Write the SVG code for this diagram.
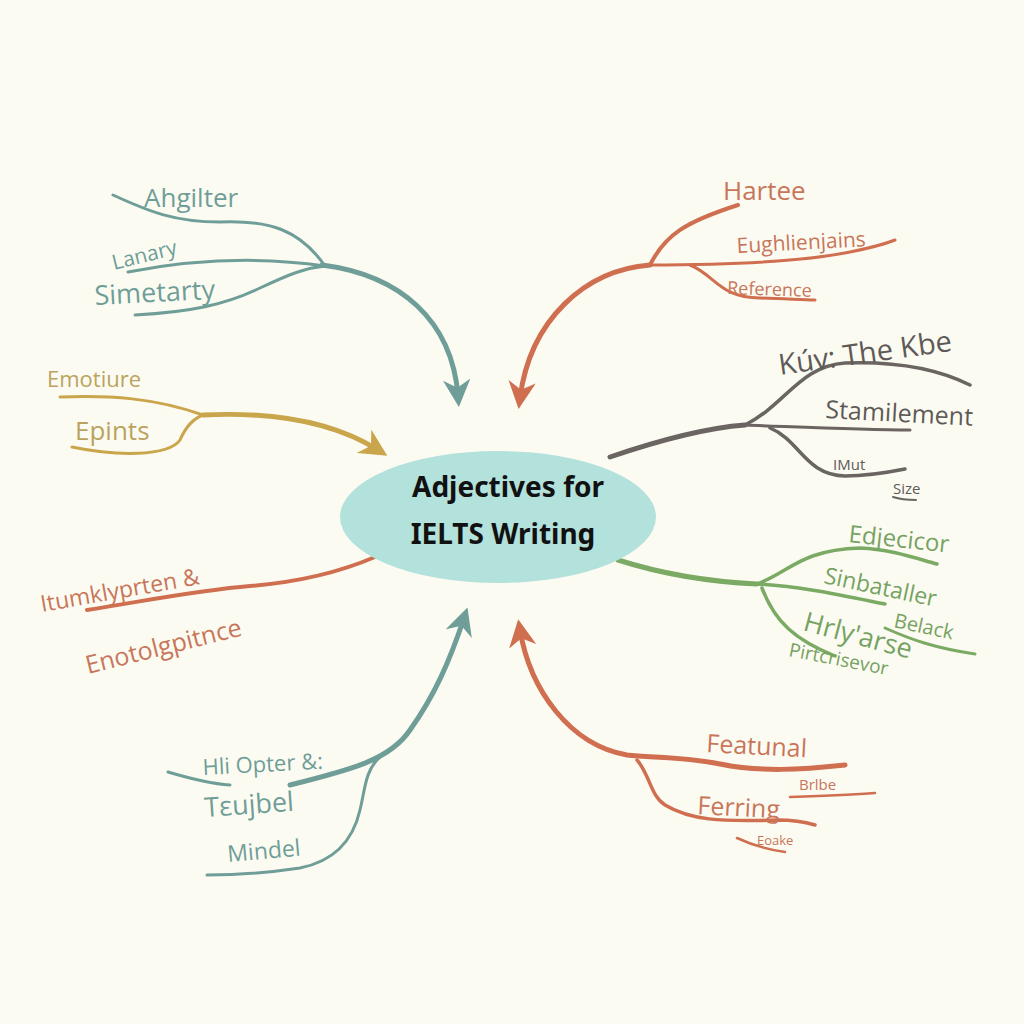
<svg xmlns="http://www.w3.org/2000/svg" width="1024" height="1024" viewBox="0 0 1024 1024">
<style>
.t{font-family:"Open Sans","Liberation Sans",sans-serif;font-weight:400}
.title{font-family:"Noto Sans","DejaVu Sans","Liberation Sans",sans-serif;font-weight:700;fill:#111}
.c{fill:none;stroke-linecap:round;stroke-linejoin:round}
.teal{stroke:#6f9e98}.org{stroke:#d06e50}.gold{stroke:#c9a54c}.gray{stroke:#6b6562}.grn{stroke:#7aaa63}
.tt{fill:#6f9e98}.to{fill:#c8765a}.tg{fill:#bba35e}.tr{fill:#5e5a58}.tn{fill:#76a262}
</style>
<defs>
<marker id="aT" viewBox="0 0 10 10" refX="6" refY="5" markerWidth="5.5" markerHeight="5.5" orient="auto" markerUnits="strokeWidth"><path d="M0,0 L10,5 L0,10 L3,5 Z" fill="#6f9e98"/></marker>
<marker id="aO" viewBox="0 0 10 10" refX="6" refY="5" markerWidth="5.5" markerHeight="5.5" orient="auto" markerUnits="strokeWidth"><path d="M0,0 L10,5 L0,10 L3,5 Z" fill="#d06e50"/></marker>
<marker id="aG" viewBox="0 0 10 10" refX="6" refY="5" markerWidth="5.5" markerHeight="5.5" orient="auto" markerUnits="strokeWidth"><path d="M0,0 L10,5 L0,10 L3,5 Z" fill="#c9a54c"/></marker>
</defs>
<rect width="1024" height="1024" fill="#fcfbf2"/>

<g id="connectors">
  <!-- top-left teal -->
  <path class="c teal" stroke-width="5" d="M322 265 C400 275 452 320 458 396" marker-end="url(#aT)"/>
  <path class="c teal" stroke-width="3" d="M113 195 C150 212 175 222 220 222 C270 220 300 230 325 266"/>
  <path class="c teal" stroke-width="3" d="M128 272 C180 262 250 255 325 266"/>
  <path class="c teal" stroke-width="3" d="M135 315 C190 312 225 305 260 288 C290 274 305 268 325 266"/>
  <!-- top-right orange -->
  <path class="c org" stroke-width="5" d="M650 265 C585 270 530 320 520 398" marker-end="url(#aO)"/>
  <path class="c org" stroke-width="4" d="M650 265 C665 235 685 222 738 205"/>
  <path class="c org" stroke-width="3" d="M650 265 C720 265 800 262 850 252 C870 248 885 244 895 240"/>
  <path class="c org" stroke-width="3" d="M690 265 C715 275 720 298 760 298 C790 299 805 300 815 300"/>
  <!-- right gray -->
  <path class="c gray" stroke-width="5" d="M610 457 C660 440 705 428 745 425"/>
  <path class="c gray" stroke-width="3.5" d="M745 425 C785 405 800 366 845 363 C900 361 940 370 970 385"/>
  <path class="c gray" stroke-width="3" d="M745 425 C800 427 860 430 910 430"/>
  <path class="c gray" stroke-width="3.5" d="M770 428 C800 440 805 475 845 476 C870 476 890 472 905 469"/>
  <path class="c gray" stroke-width="2" d="M893 497 C902 500 910 500 916 500"/>
  <!-- right green -->
  <path class="c grn" stroke-width="5" d="M618 560 C665 575 715 582 757 584"/>
  <path class="c grn" stroke-width="3.5" d="M757 584 C790 572 800 550 860 548 C890 549 915 558 937 564"/>
  <path class="c grn" stroke-width="3.5" d="M757 584 C800 586 845 596 885 604"/>
  <path class="c grn" stroke-width="3.5" d="M762 588 C775 622 795 640 835 656"/>
  <path class="c grn" stroke-width="3" d="M885 628 C912 640 935 648 975 654"/>
  <!-- left gold -->
  <path class="c gold" stroke-width="5" d="M203 415 C265 412 330 420 378 450" marker-end="url(#aG)"/>
  <path class="c gold" stroke-width="3" d="M60 397 C110 395 155 398 203 415"/>
  <path class="c gold" stroke-width="3" d="M72 447 C115 456 168 457 180 440 C186 426 195 418 203 415"/>
  <!-- left orange -->
  <path class="c org" stroke-width="4" d="M87 610 C150 600 200 590 250 586 C300 582 340 572 375 557"/>
  <!-- bottom-left teal -->
  <path class="c teal" stroke-width="5" d="M290 785 C350 770 390 760 410 730 C435 695 450 660 464 618" marker-end="url(#aT)"/>
  <path class="c teal" stroke-width="3" d="M168 772 C195 780 215 784 230 785"/>
  <path class="c teal" stroke-width="3" d="M380 757 C365 770 365 790 360 810 C352 845 330 862 300 868 C260 874 230 875 207 875"/>
  <!-- bottom-right orange -->
  <path class="c org" stroke-width="5" d="M845 765 C800 770 760 772 720 764 C680 756 650 758 627 755 C570 745 530 690 520 630" marker-end="url(#aO)"/>
  <path class="c org" stroke-width="3.5" d="M637 760 C650 775 650 795 665 805 C690 820 720 822 777 820 C795 820 805 822 815 825"/>
  <path class="c org" stroke-width="2.5" d="M790 797 C820 796 850 795 875 793"/>
  <path class="c org" stroke-width="2.5" d="M737 838 C752 845 770 850 785 852"/>
</g>

<g id="center">
  <ellipse cx="498" cy="517" rx="158" ry="66" fill="#b3e1dc"/>
  <text class="title" x="508" y="497" text-anchor="middle" font-size="28">Adjectives for</text>
  <text class="title" x="503" y="544" text-anchor="middle" font-size="28">IELTS Writing</text>
</g>

<g id="n-teal-top">
  <text class="t tt" x="144" y="207" font-size="26">Ahgilter</text>
  <text class="t tt" x="114" y="270" font-size="21" transform="rotate(-14 114 270)">Lanary</text>
  <text class="t tt" x="95" y="305" font-size="27" transform="rotate(-3 95 305)">Simetarty</text>
</g>
<g id="n-org-top">
  <text class="t to" x="723" y="200" font-size="26">Hartee</text>
  <text class="t to" x="737" y="253" font-size="21" transform="rotate(-3 737 253)">Eughlienjains</text>
  <text class="t to" x="727" y="294" font-size="18" transform="rotate(2 727 294)">Reference</text>
</g>
<g id="n-gray">
  <text class="t tr" x="780" y="375" font-size="29" transform="rotate(-8 780 375)">Kúv: The Kbe</text>
  <text class="t tr" x="825" y="418" font-size="25" transform="rotate(3 825 418)">Stamilement</text>
  <text class="t tr" x="833" y="470" font-size="15">IMut</text>
  <text class="t tr" x="893" y="494" font-size="15">Size</text>
</g>
<g id="n-green">
  <text class="t tn" x="848" y="542" font-size="24" transform="rotate(6 848 542)">Edjecicor</text>
  <text class="t tn" x="823" y="583" font-size="23" transform="rotate(12 823 583)">Sinbataller</text>
  <text class="t tn" x="893" y="627" font-size="20" transform="rotate(12 893 627)">Belack</text>
  <text class="t tn" x="802" y="630" font-size="27" transform="rotate(15 802 630)">Hrly'arse</text>
  <text class="t tn" x="788" y="656" font-size="19" transform="rotate(11 788 656)">Pirtcrisevor</text>
</g>
<g id="n-gold">
  <text class="t tg" x="47" y="387" font-size="22">Emotiure</text>
  <text class="t tg" x="75" y="440" font-size="26">Epints</text>
</g>
<g id="n-org-left">
  <text class="t to" x="42" y="612" font-size="23" transform="rotate(-10 42 612)">Itumklyprten &amp;</text>
  <text class="t to" x="88" y="674" font-size="25" transform="rotate(-14 88 674)">Enotolgpitnce</text>
</g>
<g id="n-teal-bottom">
  <text class="t tt" x="203" y="775" font-size="22" transform="rotate(-3 203 775)">Hli Opter &amp;:</text>
  <text class="t tt" x="205" y="817" font-size="27" transform="rotate(-4 205 817)">Tεujbel</text>
  <text class="t tt" x="228" y="862" font-size="23" transform="rotate(-5 228 862)">Mindel</text>
</g>
<g id="n-org-bottom">
  <text class="t to" x="706" y="752" font-size="25" transform="rotate(3 706 752)">Featunal</text>
  <text class="t to" x="799" y="790" font-size="15">Brlbe</text>
  <text class="t to" x="697" y="814" font-size="25" transform="rotate(3 697 814)">Ferring</text>
  <text class="t to" x="757" y="845" font-size="13">Eoake</text>
</g>
</svg>
